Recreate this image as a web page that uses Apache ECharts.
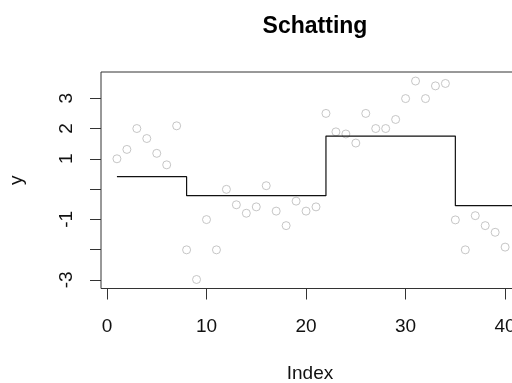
<!DOCTYPE html>
<html>
<head>
<meta charset="utf-8">
<script src="https://cdn.jsdelivr.net/npm/echarts@6/dist/echarts.min.js"></script>
<style>
  html, body { margin: 0; padding: 0; background: #ffffff; }
  #chart { width: 512px; height: 383px; }
</style>
</head>
<body>
<div id="chart"></div>
<script>
// Observed series, one value per index starting at 1
const observed = [
  1.00, 1.31, 2.00, 1.67, 1.18, 0.80, 2.09, -2.01, -2.99, -1.01,
  -2.01, -0.01, -0.52, -0.80, -0.59, 0.11, -0.73, -1.21, -0.40, -0.73,
  -0.59, 2.50, 1.89, 1.82, 1.52, 2.50, 2.00, 2.00, 2.30, 2.99,
  3.57, 2.99, 3.41, 3.49, -1.02, -2.01, -0.88, -1.21, -1.43, -1.92
];

// Piecewise-constant estimate: each level starts at the given index
const levelStarts = [1, 8, 22, 35];
const levelValues = [0.41, -0.22, 1.75, -0.55];
const lastIndex = 41;

// Axis ticks and the labels that are printed
const xTicks = [0, 10, 20, 30, 40];
const yTicks = [-3, -2, -1, 0, 1, 2, 3];
const yTickLabels = [-3, -1, 1, 2, 3];

const FONT = 'Liberation Sans, Arial, Helvetica, sans-serif';

const pointData = observed.map((v, i) => [i + 1, v]);

// Step outline: horizontal run for each level, vertical jumps at the breaks
const stepData = [];
levelValues.forEach((lv, k) => {
  const from = levelStarts[k];
  const to = k + 1 < levelStarts.length ? levelStarts[k + 1] : lastIndex;
  stepData.push([from, lv], [to, lv]);
});

const chart = echarts.init(document.getElementById('chart'), null, { renderer: 'canvas' });

chart.setOption({
  animation: false,
  backgroundColor: '#ffffff',
  title: {
    text: 'Schatting',
    left: 310,
    top: 10,
    textAlign: 'center',
    textStyle: { fontFamily: FONT, fontSize: 23, fontWeight: 'bold', color: '#000' }
  },
  grid: {
    left: 101,
    top: 72,
    width: 430,
    height: 216.5,
    outerBoundsMode: 'none',
    containLabel: false,
    show: true,
    borderColor: '#333',
    borderWidth: 1,
    backgroundColor: 'transparent'
  },
  xAxis: {
    type: 'value',
    min: -0.6,
    max: 42.6,
    name: 'Index',
    nameLocation: 'middle',
    nameGap: 76,
    nameTextStyle: { fontFamily: FONT, fontSize: 19, color: '#111', padding: [0, 12, 0, 0] },
    axisLine: { show: false, onZero: false },
    splitLine: { show: false },
    axisTick: { show: true, length: 11, customValues: xTicks, lineStyle: { color: '#333', width: 1 } },
    axisLabel: {
      customValues: xTicks,
      margin: 29,
      fontFamily: FONT, fontSize: 19, color: '#111'
    }
  },
  yAxis: {
    type: 'value',
    min: -3.288,
    max: 3.869,
    name: 'y',
    nameLocation: 'middle',
    nameGap: 75,
    nameTextStyle: { fontFamily: FONT, fontSize: 19, color: '#111' },
    axisLine: { show: false, onZero: false },
    splitLine: { show: false },
    axisTick: { show: true, length: 11, customValues: yTicks, lineStyle: { color: '#333', width: 1 } },
    axisLabel: {
      customValues: yTickLabels,
      rotate: 90,
      margin: 25,
      fontFamily: FONT, fontSize: 19, color: '#111'
    }
  },
  series: [
    {
      type: 'scatter',
      data: pointData,
      symbol: 'circle',
      symbolSize: 8,
      itemStyle: { color: 'rgba(0,0,0,0)', borderColor: '#b8b8b8', borderWidth: 1 },
      silent: true
    },
    {
      type: 'line',
      data: stepData,
      showSymbol: false,
      symbol: 'none',
      lineStyle: { color: '#111', width: 1.2 },
      silent: true
    }
  ]
});
</script>
</body>
</html>
